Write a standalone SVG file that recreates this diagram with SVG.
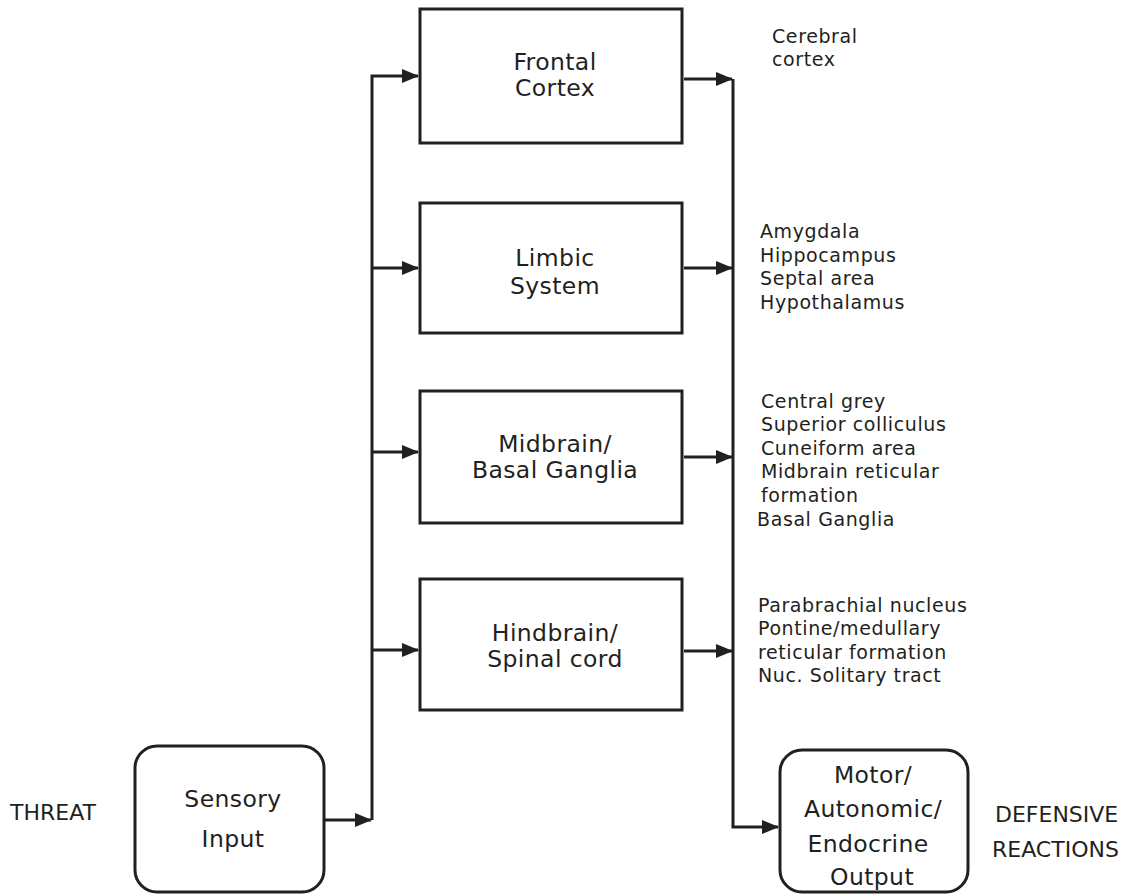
<svg xmlns="http://www.w3.org/2000/svg" width="1145" height="894" viewBox="0 0 1145 894">
<style>
.box{fill:#fff;stroke:#231f20;stroke-width:3}
.ln{fill:none;stroke:#231f20;stroke-width:3}
.t{font-family:"DejaVu Sans",sans-serif;font-size:23.5px;fill:#231f20;text-anchor:middle;letter-spacing:0.4px}
.s{font-family:"DejaVu Sans",sans-serif;font-size:19px;fill:#231f20;letter-spacing:0.6px}
.b{font-family:"DejaVu Sans",sans-serif;font-size:22px;fill:#231f20}
</style>
<defs>
<marker id="ah" markerUnits="userSpaceOnUse" markerWidth="18" markerHeight="14" refX="16" refY="7" orient="auto">
<path d="M0,0 L17,7 L0,14 Z" fill="#231f20"/>
</marker>
</defs>
<g id="connectors">
<polyline class="ln" points="372,820 372,76 418,76" marker-end="url(#ah)"/>
<path class="ln" d="M372,268 H418" marker-end="url(#ah)"/>
<path class="ln" d="M372,452 H418" marker-end="url(#ah)"/>
<path class="ln" d="M372,650 H418" marker-end="url(#ah)"/>
<path class="ln" d="M324,820 H371" marker-end="url(#ah)"/>
<path class="ln" d="M684,79 H732" marker-end="url(#ah)"/>
<path class="ln" d="M684,268 H732" marker-end="url(#ah)"/>
<path class="ln" d="M684,457 H732" marker-end="url(#ah)"/>
<path class="ln" d="M684,651 H732" marker-end="url(#ah)"/>
<polyline class="ln" points="733,79 733,827 778,827" marker-end="url(#ah)"/>
</g>
<g id="frontal">
<rect class="box" x="420" y="9" width="262" height="134"/>
<text class="t" x="555" y="70">Frontal</text>
<text class="t" x="555" y="96">Cortex</text>
</g>
<g id="limbic">
<rect class="box" x="420" y="203" width="262" height="130"/>
<text class="t" x="555" y="266">Limbic</text>
<text class="t" x="555" y="294">System</text>
</g>
<g id="midbrain">
<rect class="box" x="420" y="391" width="262" height="132"/>
<text class="t" x="555" y="452">Midbrain/</text>
<text class="t" x="555" y="478">Basal Ganglia</text>
</g>
<g id="hindbrain">
<rect class="box" x="420" y="579" width="262" height="131"/>
<text class="t" x="555" y="641">Hindbrain/</text>
<text class="t" x="555" y="667">Spinal cord</text>
</g>
<g id="sensory">
<rect class="box" x="135" y="746" width="189" height="146" rx="22"/>
<text class="t" x="233" y="807">Sensory</text>
<text class="t" x="233" y="847">Input</text>
</g>
<g id="output">
<rect class="box" x="780" y="750" width="188" height="142" rx="22"/>
<text class="t" x="873" y="783">Motor/</text>
<text class="t" x="873" y="817">Autonomic/</text>
<text class="t" x="868" y="852">Endocrine</text>
<text class="t" x="872" y="885">Output</text>
</g>
<g id="labels">
<text class="b" x="10" y="820">THREAT</text>
<text class="b" x="995" y="822">DEFENSIVE</text>
<text class="b" x="992" y="857">REACTIONS</text>
<text class="s" x="772" y="43">Cerebral</text>
<text class="s" x="772" y="66">cortex</text>
<text class="s" x="760" y="238">Amygdala</text>
<text class="s" x="760" y="262">Hippocampus</text>
<text class="s" x="760" y="285">Septal area</text>
<text class="s" x="760" y="309">Hypothalamus</text>
<text class="s" x="761" y="408">Central grey</text>
<text class="s" x="761" y="431">Superior colliculus</text>
<text class="s" x="761" y="455">Cuneiform area</text>
<text class="s" x="761" y="478">Midbrain reticular</text>
<text class="s" x="761" y="502">formation</text>
<text class="s" x="757" y="526">Basal Ganglia</text>
<text class="s" x="758" y="612">Parabrachial nucleus</text>
<text class="s" x="758" y="635">Pontine/medullary</text>
<text class="s" x="758" y="659">reticular formation</text>
<text class="s" x="758" y="682">Nuc. Solitary tract</text>
</g>
</svg>
